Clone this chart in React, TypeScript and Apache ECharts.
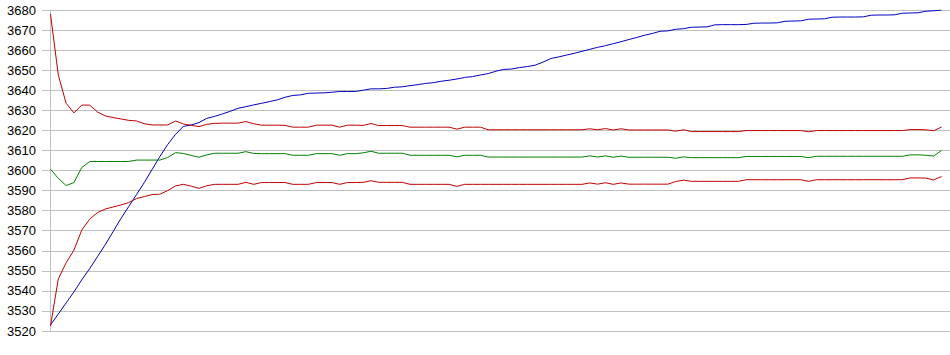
import React, { useEffect, useRef } from "react";
import * as echarts from "echarts";

const yMin = 3520;
const yMax = 3680;
const yStep = 10;

const blueSeries = [
  3523, 3528.5, 3534, 3539.5, 3545.5, 3551, 3557, 3563, 3569.5, 3576,
  3582, 3588, 3594, 3600.5, 3607, 3613, 3618, 3622, 3622.7, 3623.9,
  3626, 3627, 3628.2, 3629.5, 3631, 3631.8, 3632.7, 3633.5, 3634.3, 3635.2,
  3636.5, 3637.4, 3637.7, 3638.5, 3638.6, 3638.7, 3639, 3639.4, 3639.4, 3639.4,
  3640, 3640.7, 3640.7, 3640.9, 3641.5, 3641.7, 3642.3, 3642.8, 3643.4, 3643.8,
  3644.5, 3645, 3645.6, 3646.4, 3646.8, 3647.6, 3648.3, 3649.5, 3650.4, 3650.6,
  3651.3, 3651.8, 3652.5, 3654, 3655.8, 3656.6, 3657.5, 3658.4, 3659.4, 3660.4,
  3661.4, 3662.2, 3663.2, 3664.2, 3665.3, 3666.3, 3667.4, 3668.3, 3669.4, 3669.6,
  3670.4, 3670.7, 3671.4, 3671.5, 3671.6, 3672.6, 3672.7, 3672.7, 3672.7, 3672.8,
  3673.4, 3673.5, 3673.5, 3673.6, 3674.4, 3674.5, 3674.6, 3675.4, 3675.5, 3675.6,
  3676.4, 3676.5, 3676.5, 3676.5, 3676.6, 3677.4, 3677.5, 3677.5, 3677.6, 3678.4,
  3678.5, 3678.6, 3679.4, 3679.6, 3680,
];

const redUpperSeries = [
  3678, 3647.5, 3633.5, 3628.7, 3632.6, 3632.6, 3629.2, 3627.2, 3626.4, 3625.7,
  3625, 3624.7, 3623.3, 3622.7, 3622.7, 3622.7, 3624.7, 3623.2, 3622.5, 3621.9,
  3623, 3623.5, 3623.6, 3623.6, 3623.6, 3624.4, 3623.3, 3622.6, 3622.6, 3622.6,
  3622.5, 3621.6, 3621.6, 3621.6, 3622.6, 3622.6, 3622.6, 3621.6, 3622.6, 3622.6,
  3622.5, 3623.4, 3622.4, 3622.4, 3622.4, 3622.4, 3621.6, 3621.6, 3621.6, 3621.6,
  3621.6, 3621.6, 3620.6, 3621.6, 3621.6, 3621.6, 3620.3, 3620.3, 3620.3, 3620.3,
  3620.3, 3620.3, 3620.3, 3620.3, 3620.3, 3620.3, 3620.3, 3620.3, 3620.3, 3620.8,
  3620.3, 3620.9, 3620.2, 3620.8, 3620.2, 3620.2, 3620.2, 3620.2, 3620.2, 3620.2,
  3619.6, 3620.3, 3619.4, 3619.4, 3619.4, 3619.4, 3619.4, 3619.4, 3619.4, 3619.9,
  3619.9, 3619.9, 3619.9, 3619.9, 3619.9, 3619.9, 3619.9, 3619.3, 3619.9, 3619.9,
  3619.9, 3619.9, 3619.9, 3619.9, 3619.9, 3619.9, 3619.9, 3619.9, 3619.9, 3619.9,
  3620.4, 3620.4, 3620.3, 3619.8, 3621.7,
];

const greenSeries = [
  3600.6, 3596.1, 3592.5, 3594, 3601.5, 3604.4, 3604.5, 3604.5, 3604.5, 3604.5,
  3604.5, 3605.2, 3605.2, 3605.2, 3605.2, 3606.5, 3608.9, 3608.5, 3607.5, 3606.6,
  3607.8, 3608.6, 3608.6, 3608.6, 3608.6, 3609.4, 3608.5, 3608.4, 3608.4, 3608.4,
  3608.4, 3607.6, 3607.6, 3607.6, 3608.4, 3608.4, 3608.4, 3607.6, 3608.4, 3608.4,
  3608.8, 3609.6, 3608.6, 3608.6, 3608.6, 3608.6, 3607.6, 3607.6, 3607.6, 3607.6,
  3607.6, 3607.6, 3606.8, 3607.6, 3607.6, 3607.6, 3606.7, 3606.7, 3606.7, 3606.7,
  3606.7, 3606.7, 3606.7, 3606.7, 3606.7, 3606.7, 3606.7, 3606.7, 3606.7, 3607.3,
  3606.7, 3607.3, 3606.6, 3607.2, 3606.6, 3606.6, 3606.6, 3606.6, 3606.6, 3606.6,
  3606.1, 3606.8, 3606.4, 3606.4, 3606.4, 3606.4, 3606.4, 3606.4, 3606.4, 3607,
  3607, 3607, 3607, 3607, 3607, 3607, 3607, 3606.4, 3607.1, 3607.1,
  3607.1, 3607.1, 3607.1, 3607.1, 3607.1, 3607.1, 3607.1, 3607.1, 3607.1, 3607.1,
  3607.8, 3607.8, 3607.6, 3607.2, 3610,
];

const redLowerSeries = [
  3522.5, 3546, 3554, 3560.3, 3570.3, 3575.7, 3579, 3580.8, 3581.8, 3582.8,
  3584, 3586, 3587, 3588, 3588.2, 3590, 3592.3, 3593.1, 3592.2, 3591.1,
  3592.4, 3593.1, 3593.1, 3593.1, 3593.1, 3594.1, 3593.1, 3594, 3594, 3594,
  3594, 3593.1, 3593.1, 3593.1, 3594, 3594, 3594, 3593.1, 3594, 3594,
  3594.1, 3594.9, 3594.1, 3594.1, 3594.1, 3594.1, 3593.1, 3593.1, 3593.1, 3593.1,
  3593.1, 3593.1, 3592.1, 3593.1, 3593.1, 3593.1, 3593.1, 3593.1, 3593.1, 3593.1,
  3593.1, 3593.1, 3593.1, 3593.1, 3593.1, 3593.1, 3593.1, 3593.1, 3593.1, 3593.8,
  3593.2, 3593.9, 3593.1, 3593.8, 3593.2, 3593.2, 3593.2, 3593.2, 3593.2, 3593.2,
  3594.5, 3595.2, 3594.6, 3594.6, 3594.6, 3594.6, 3594.6, 3594.6, 3594.6, 3595.4,
  3595.4, 3595.4, 3595.4, 3595.4, 3595.4, 3595.4, 3595.4, 3594.6, 3595.4, 3595.4,
  3595.4, 3595.4, 3595.4, 3595.4, 3595.4, 3595.4, 3595.4, 3595.4, 3595.4, 3595.4,
  3596.3, 3596.3, 3596.2, 3595.3, 3597,
];

const seriesDefs = [
  { name: "blue", data: blueSeries, color: "#0000c0" },
  { name: "redUpper", data: redUpperSeries, color: "#c00000" },
  { name: "green", data: greenSeries, color: "#008000" },
  { name: "redLower", data: redLowerSeries, color: "#c00000" },
];

export default function App() {
  const ref = useRef<HTMLDivElement>(null);
  useEffect(() => {
    if (!ref.current) return;
    const chart = echarts.init(ref.current, null, { renderer: "svg" });
    const n = blueSeries.length;
    chart.setOption({
      animation: false,
      backgroundColor: "#ffffff",
      grid: { left: 42, right: 0, top: 10, bottom: 24, containLabel: false },
      xAxis: {
        type: "value",
        min: -1.0875,
        max: n - 1 + 1.0875,
        axisLine: { show: false },
        axisTick: { show: false },
        axisLabel: { show: false },
        splitLine: { show: false },
      },
      yAxis: {
        type: "value",
        min: yMin,
        max: yMax,
        interval: yStep,
        axisLine: { show: true, lineStyle: { color: "#c0c0c0", width: 1 } },
        axisTick: { show: false },
        axisLabel: {
          margin: 6,
          color: "#000000",
          fontSize: 13,
          fontFamily: "'Liberation Sans', Arial, sans-serif",
          formatter: (v: number) => String(v),
        },
        splitLine: { show: true, lineStyle: { color: "#c0c0c0", width: 1 } },
      },
      series: seriesDefs.map((s) => ({
        name: s.name,
        type: "line",
        data: s.data.map((v, i) => [i, v]),
        showSymbol: false,
        symbol: "none",
        lineStyle: { color: s.color, width: 1 },
        itemStyle: { color: s.color },
        emphasis: { disabled: true },
        silent: true,
      })),
    });
    return () => chart.dispose();
  }, []);
  return (
    <div
      ref={ref}
      style={{ position: "fixed", left: 0, top: 0, width: 950, height: 355 }}
    />
  );
}
